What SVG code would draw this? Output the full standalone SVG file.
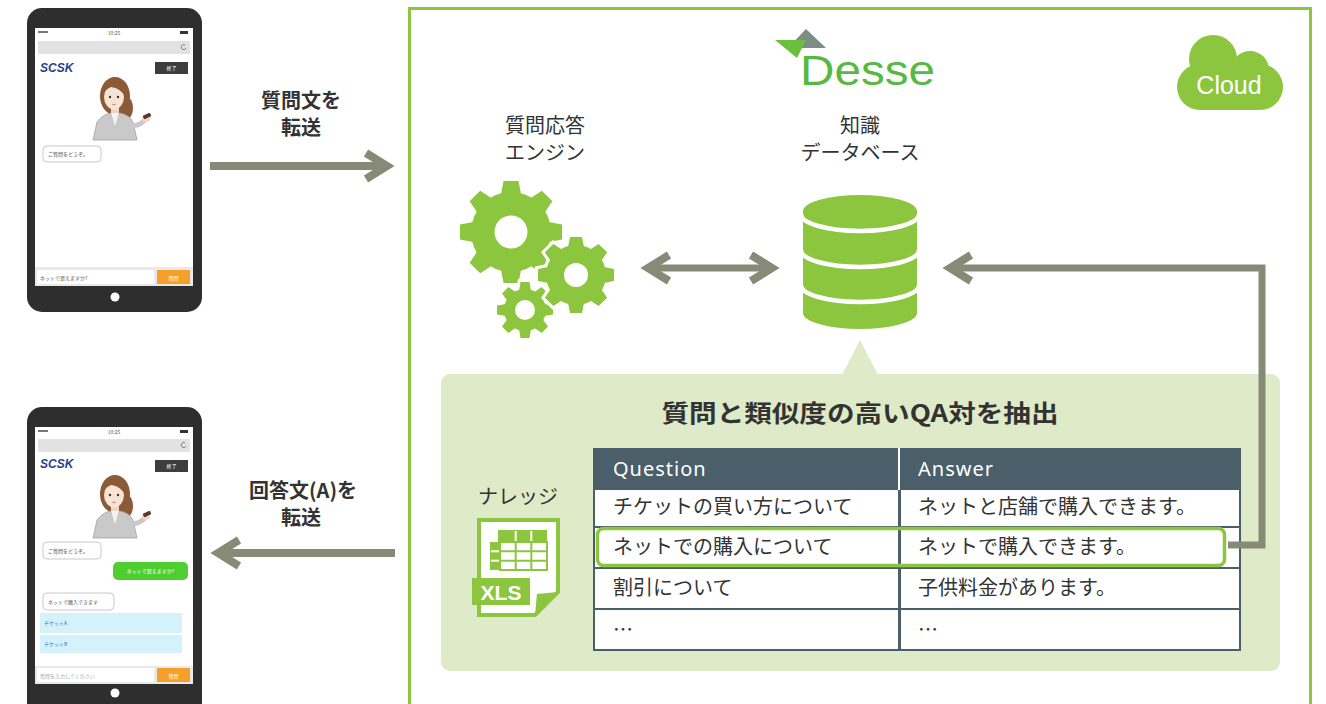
<svg xmlns="http://www.w3.org/2000/svg" xmlns:xlink="http://www.w3.org/1999/xlink" width="1326" height="704" viewBox="0 0 1326 704">
  <style>
    .jp { font-family: "Noto Sans CJK JP", "Noto Sans", sans-serif; fill: #333; }
    .lbl { font-size: 20px; text-anchor: middle; }
    .lbl-b { font-size: 20px; text-anchor: middle; font-weight: bold; }
    .cell { font-size: 20px; }
    .head { font-family: "Noto Sans", "DejaVu Sans", sans-serif; font-size: 20px; fill: #fff; letter-spacing: 1px; }
    .conn { fill: none; stroke: #878a77; stroke-linejoin: miter; }
    .green { fill: #8cc63f; }
    .phone-body { fill: #2e2e2e; }
    .tiny { font-family: "Noto Sans CJK JP", sans-serif; font-size: 5px; fill: #555; }
    .tiny-w { font-family: "Noto Sans CJK JP", sans-serif; font-size: 5px; fill: #fff; }
    .scsk { font-family: "Liberation Sans", sans-serif; font-size: 12px; font-weight: bold; font-style: italic; fill: #2b3f8e; }
  </style>
  <defs>
    <marker id="chev" markerUnits="userSpaceOnUse" markerWidth="1" markerHeight="1" refX="0" refY="0" orient="auto-start-reverse" overflow="visible">
      <path d="M -21 -13 L 0 0 L -21 13" fill="none" stroke="#878a77" stroke-width="8" stroke-linejoin="miter"/>
    </marker>
    <path id="toothL" d="M -10 -38 L -7.5 -51 L 7.5 -51 L 10 -38 Z"/>
    <path id="toothM" d="M -8 -28 L -6 -38 L 6 -38 L 8 -28 Z"/>
    <path id="toothS" d="M -6 -19 L -4.5 -28 L 4.5 -28 L 6 -19 Z"/>
    <g id="gearL">
      <circle r="40"/>
      <use xlink:href="#toothL"/><use xlink:href="#toothL" transform="rotate(45)"/>
      <use xlink:href="#toothL" transform="rotate(90)"/><use xlink:href="#toothL" transform="rotate(135)"/>
      <use xlink:href="#toothL" transform="rotate(180)"/><use xlink:href="#toothL" transform="rotate(225)"/>
      <use xlink:href="#toothL" transform="rotate(270)"/><use xlink:href="#toothL" transform="rotate(315)"/>
    </g>
    <g id="gearM">
      <circle r="30"/>
      <use xlink:href="#toothM"/><use xlink:href="#toothM" transform="rotate(45)"/>
      <use xlink:href="#toothM" transform="rotate(90)"/><use xlink:href="#toothM" transform="rotate(135)"/>
      <use xlink:href="#toothM" transform="rotate(180)"/><use xlink:href="#toothM" transform="rotate(225)"/>
      <use xlink:href="#toothM" transform="rotate(270)"/><use xlink:href="#toothM" transform="rotate(315)"/>
    </g>
    <g id="gearS">
      <circle r="21"/>
      <use xlink:href="#toothS"/><use xlink:href="#toothS" transform="rotate(45)"/>
      <use xlink:href="#toothS" transform="rotate(90)"/><use xlink:href="#toothS" transform="rotate(135)"/>
      <use xlink:href="#toothS" transform="rotate(180)"/><use xlink:href="#toothS" transform="rotate(225)"/>
      <use xlink:href="#toothS" transform="rotate(270)"/><use xlink:href="#toothS" transform="rotate(315)"/>
    </g>
    <!-- operator avatar shown on the chat screens -->
    <g id="avatar">
      <ellipse cx="30" cy="22" rx="15" ry="19" fill="#8b5a36"/>
      <ellipse cx="42" cy="34" rx="6" ry="11" fill="#8b5a36"/>
      <rect x="26" y="32" width="8" height="10" fill="#f2d6c2"/>
      <ellipse cx="29" cy="23" rx="10" ry="12.5" fill="#f8e4d4"/>
      <path d="M 18 20 Q 22 6 34 8 Q 42 11 41 24 Q 36 14 26 13 Q 21 15 18 20 Z" fill="#8b5a36"/>
      <circle cx="25" cy="23" r="1.2" fill="#4a2e20"/>
      <circle cx="33" cy="23" r="1.2" fill="#4a2e20"/>
      <path d="M 27 30 Q 29 31.5 31 30" fill="none" stroke="#c46a6a" stroke-width="0.8"/>
      <path d="M 8 66 L 12 48 Q 18 40 26 39 L 30 48 L 34 39 Q 44 40 48 48 L 52 66 Z" fill="#c9c9c9" stroke="#9a9a9a" stroke-width="0.7"/>
      <path d="M 26 39 L 30 52 L 34 39 Z" fill="#f4f4f4"/>
      <path d="M 46 52 Q 54 52 60 46" fill="none" stroke="#c9c9c9" stroke-width="5"/>
      <ellipse cx="61" cy="45" rx="4" ry="3" fill="#f2d6c2"/>
      <rect x="58" y="40" width="8" height="4" rx="1" fill="#5a3a2a" transform="rotate(-25 62 42)"/>
    </g>
  </defs>

  <rect width="1326" height="704" fill="#fff"/>

  <!-- cloud service frame -->
  <g id="cloud-frame">
    <rect x="409.5" y="8.5" width="901" height="720" fill="none" stroke="#8cc63f" stroke-width="3"/>
  </g>

  <!-- Desse logo -->
  <g id="desse-logo">
    <polygon points="806,29 826,48 788,48" fill="#7d8c84"/>
    <polygon points="775,40 806,40 797,58" fill="#6cbf3c"/>
    <text x="800" y="85" font-family="Liberation Sans, sans-serif" font-size="43" fill="#55b944" textLength="135" lengthAdjust="spacingAndGlyphs">Desse</text>
  </g>

  <!-- Cloud badge -->
  <g id="cloud-badge">
    <circle cx="1213" cy="59" r="24" class="green"/>
    <circle cx="1250" cy="70" r="19" class="green"/>
    <rect x="1177" y="64" width="106" height="46" rx="23" class="green"/>
    <text x="1229" y="94" font-family="Liberation Sans, sans-serif" font-size="25" fill="#fff" text-anchor="middle">Cloud</text>
  </g>

  <!-- phone: question entry -->
  <g id="phone-question">
    <rect x="27" y="8" width="175" height="304" rx="15" class="phone-body"/>
    <rect x="35" y="28" width="158" height="258" fill="#fff"/>
    <rect x="38" y="31" width="10" height="2" fill="#777"/>
    <text x="114" y="35" class="tiny" text-anchor="middle">10:25</text>
    <rect x="180" y="31" width="8" height="3" fill="#333"/>
    <rect x="38" y="41" width="152" height="13" fill="#e2e2e2"/>
    <path d="M 185 45 A 2.5 2.5 0 1 0 186 48" fill="none" stroke="#666" stroke-width="0.8"/>
    <text x="40" y="72" class="scsk">SCSK</text>
    <rect x="155" y="62" width="33" height="12" fill="#3d3d3d"/>
    <text x="171.5" y="70" class="tiny-w" text-anchor="middle">終了</text>
    <use xlink:href="#avatar" x="85" y="74"/>
    <rect x="43" y="146" width="58" height="16" rx="4" fill="#fff" stroke="#bbb" stroke-width="0.8"/>
    <text x="48" y="156" class="tiny">ご質問をどうぞ。</text>
    <rect x="35" y="267" width="158" height="19" fill="#e9e9e9"/>
    <rect x="37" y="270" width="117" height="14" fill="#fff"/>
    <text x="40" y="280" class="tiny" font-size="6">ネットで買えますか?</text>
    <rect x="157" y="270" width="33" height="14" fill="#f5a02a"/>
    <text x="173.5" y="279.5" class="tiny-w" text-anchor="middle">質問</text>
    <circle cx="115" cy="297" r="4.5" fill="#fff"/>
  </g>

  <!-- phone: answer display -->
  <g id="phone-answer">
    <rect x="27" y="407" width="175" height="320" rx="15" class="phone-body"/>
    <rect x="35" y="427" width="158" height="257" fill="#fff"/>
    <rect x="38" y="430" width="10" height="2" fill="#777"/>
    <text x="114" y="434" class="tiny" text-anchor="middle">10:25</text>
    <rect x="180" y="430" width="8" height="3" fill="#333"/>
    <rect x="38" y="439" width="152" height="13" fill="#e2e2e2"/>
    <path d="M 185 443 A 2.5 2.5 0 1 0 186 446" fill="none" stroke="#666" stroke-width="0.8"/>
    <text x="40" y="468" class="scsk">SCSK</text>
    <rect x="155" y="460" width="33" height="12" fill="#3d3d3d"/>
    <text x="171.5" y="468" class="tiny-w" text-anchor="middle">終了</text>
    <use xlink:href="#avatar" x="85" y="472"/>
    <rect x="43" y="542" width="58" height="17" rx="4" fill="#fff" stroke="#bbb" stroke-width="0.8"/>
    <text x="48" y="552.5" class="tiny">ご質問をどうぞ。</text>
    <rect x="113" y="562" width="75" height="18" rx="5" fill="#4fcf2f"/>
    <text x="150.5" y="573" class="tiny-w" text-anchor="middle">ネットで買えますか?</text>
    <rect x="43" y="593" width="71" height="17" rx="4" fill="#fff" stroke="#bbb" stroke-width="0.8"/>
    <text x="48" y="603.5" class="tiny">ネットで購入できます</text>
    <rect x="40" y="613" width="142" height="20" fill="#d3f2fa"/>
    <text x="44" y="625" class="tiny" style="fill:#3a6fd0">チケットA</text>
    <rect x="40" y="635" width="142" height="18" fill="#d3f2fa"/>
    <text x="44" y="646" class="tiny" style="fill:#3a6fd0">チケットB</text>
    <rect x="35" y="666" width="158" height="18" fill="#e9e9e9"/>
    <rect x="37" y="668" width="117" height="14" fill="#fff"/>
    <text x="40" y="678" class="tiny" font-size="6" style="fill:#aaa">質問を入力してください</text>
    <rect x="157" y="668" width="33" height="14" fill="#f5a02a"/>
    <text x="173.5" y="677.5" class="tiny-w" text-anchor="middle">質問</text>
    <circle cx="115" cy="693" r="4.5" fill="#fff"/>
  </g>

  <!-- transfer labels -->
  <g id="label-send">
    <text x="301" y="108" class="jp lbl-b">質問文を</text>
    <text x="301" y="135" class="jp lbl-b">転送</text>
  </g>
  <g id="label-return">
    <text x="303" y="498" class="jp lbl-b">回答文(A)を</text>
    <text x="301" y="525" class="jp lbl-b">転送</text>
  </g>

  <!-- question-answer engine -->
  <g id="qa-engine">
    <text x="545" y="133" class="jp lbl">質問応答</text>
    <text x="545" y="160" class="jp lbl">エンジン</text>
    <use xlink:href="#gearL" x="511" y="232" fill="#8cc63f"/>
    <use xlink:href="#gearS" x="525" y="310" fill="#fff" stroke="#fff" stroke-width="6"/>
    <use xlink:href="#gearS" x="525" y="310" fill="#8cc63f"/>
    <use xlink:href="#gearM" x="576" y="275" fill="#fff" stroke="#fff" stroke-width="6"/>
    <use xlink:href="#gearM" x="576" y="275" fill="#8cc63f"/>
    <circle cx="511" cy="232" r="16.5" fill="#fff"/>
    <circle cx="576" cy="275" r="12" fill="#fff"/>
    <circle cx="525" cy="310" r="10" fill="#fff"/>
  </g>

  <!-- knowledge database -->
  <g id="knowledge-db">
    <text x="860" y="133" class="jp lbl">知識</text>
    <text x="860" y="160" class="jp lbl">データベース</text>
    <path d="M 803 211 V 313 A 57 16 0 0 0 917 313 V 211 Z" class="green"/>
    <ellipse cx="860" cy="211" rx="57" ry="16" class="green"/>
    <path d="M 801 214 A 59 17 0 0 0 919 214" fill="none" stroke="#fff" stroke-width="4.5"/>
    <path d="M 801 250 A 59 17 0 0 0 919 250" fill="none" stroke="#fff" stroke-width="4.5"/>
    <path d="M 801 285 A 59 17 0 0 0 919 285" fill="none" stroke="#fff" stroke-width="4.5"/>
  </g>

  <!-- extraction panel -->
  <g id="extract-panel">
    <rect x="441" y="374" width="839" height="297" rx="9" fill="#dfeac8"/>
    <polygon points="860,340 878,375 842,375" fill="#dfeac8"/>
    <text x="860" y="422" class="jp" font-size="24" font-weight="bold" text-anchor="middle" textLength="397" lengthAdjust="spacingAndGlyphs">質問と類似度の高いQA対を抽出</text>
  </g>

  <!-- knowledge file icon -->
  <g id="xls-file">
    <text x="518" y="504" class="jp" font-size="20" text-anchor="middle">ナレッジ</text>
    <path d="M 479 520 H 558 V 592 L 535 615 H 479 Z" fill="#fff" stroke="#8cc63f" stroke-width="4"/>
    <polygon points="535,615 537,594 558,592" fill="#8cc63f"/>
    <rect x="498" y="530" width="49" height="12" class="green"/>
    <rect x="490" y="542" width="10" height="28" class="green"/>
    <g fill="none" stroke="#8cc63f" stroke-width="2">
      <rect x="500" y="542" width="47" height="28"/>
      <line x1="515.7" y1="530" x2="515.7" y2="570"/>
      <line x1="531.3" y1="530" x2="531.3" y2="570"/>
      <line x1="490" y1="551.3" x2="547" y2="551.3"/>
      <line x1="490" y1="560.7" x2="547" y2="560.7"/>
    </g>
    <line x1="515.7" y1="531" x2="515.7" y2="541" stroke="#fff" stroke-width="2"/>
    <line x1="531.3" y1="531" x2="531.3" y2="541" stroke="#fff" stroke-width="2"/>
    <line x1="491" y1="551.3" x2="499" y2="551.3" stroke="#fff" stroke-width="2"/>
    <line x1="491" y1="560.7" x2="499" y2="560.7" stroke="#fff" stroke-width="2"/>
    <rect x="472" y="578" width="58" height="27" class="green"/>
    <text x="501" y="600" font-family="Liberation Sans, sans-serif" font-size="21" font-weight="bold" fill="#fff" text-anchor="middle">XLS</text>
  </g>

  <!-- QA pair table -->
  <g id="qa-table">
    <rect x="593" y="448" width="648" height="203" fill="#4a5f69"/>
    <line x1="899" y1="448" x2="899" y2="490" stroke="#fff" stroke-width="2"/>
    <g fill="#fff">
      <rect x="595" y="490" width="303" height="36"/>
      <rect x="901" y="490" width="338" height="36"/>
      <rect x="595" y="528" width="303" height="39"/>
      <rect x="901" y="528" width="338" height="39"/>
      <rect x="595" y="569" width="303" height="39"/>
      <rect x="901" y="569" width="338" height="39"/>
      <rect x="595" y="610" width="303" height="39"/>
      <rect x="901" y="610" width="338" height="39"/>
    </g>
    <text x="613" y="476" class="head">Question</text>
    <text x="918" y="476" class="head">Answer</text>
    <text x="613" y="514" class="jp cell">チケットの買い方について</text>
    <text x="918" y="514" class="jp cell">ネットと店舗で購入できます。</text>
    <text x="613" y="554" class="jp cell">ネットでの購入について</text>
    <text x="918" y="554" class="jp cell">ネットで購入できます。</text>
    <text x="613" y="595" class="jp cell">割引について</text>
    <text x="918" y="595" class="jp cell">子供料金があります。</text>
    <text x="613" y="637" class="jp cell">…</text>
    <text x="918" y="637" class="jp cell">…</text>
    <rect x="597.5" y="528.5" width="627" height="37" rx="6" fill="none" stroke="#8cc63f" stroke-width="3.5"/>
  </g>

  <!-- connectors -->
  <g id="connectors">
    <path d="M 210 166 H 387" class="conn" stroke-width="8" marker-end="url(#chev)"/>
    <path d="M 395 553 H 218" class="conn" stroke-width="8" marker-end="url(#chev)"/>
    <path d="M 648 268 H 772" class="conn" stroke-width="7" marker-start="url(#chev)" marker-end="url(#chev)"/>
    <path d="M 1228 545 H 1262 V 268 H 950" class="conn" stroke-width="7" marker-end="url(#chev)"/>
  </g>
</svg>
